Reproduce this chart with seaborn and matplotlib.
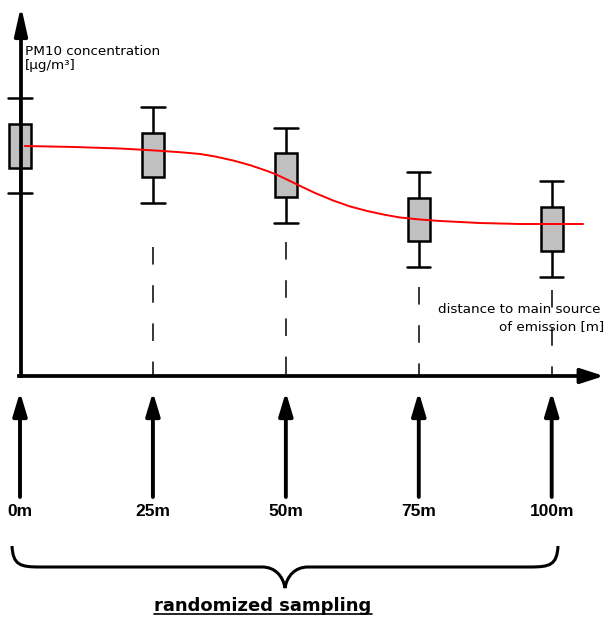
import numpy as np
import pandas as pd
import seaborn as sns
import matplotlib.pyplot as plt
from matplotlib.patches import FancyArrowPatch, PathPatch
from matplotlib.path import Path

# Sampling distances [m] and box statistics of PM10 (arbitrary units)
distance_m = [0, 25, 50, 75, 100]
whisker_low = [18.3, 17.3, 15.3, 10.9, 9.9]
quartile_1 = [20.8, 19.9, 17.9, 13.5, 12.5]
median = [23.0, 22.1, 20.1, 15.6, 14.7]
quartile_3 = [25.2, 24.3, 22.3, 17.8, 16.9]
whisker_high = [27.8, 26.9, 24.8, 20.4, 19.5]

# Red trend curve through the boxes
trend_x = [0.9, 10.3, 18.8, 25.4, 30.1, 33.9, 36.7, 40.1, 43.3, 46.5, 48.0, 50.2, 52.7,
           55.5, 58.9, 62.1, 65.3, 68.6, 71.5, 75.2, 79.0, 82.8, 86.5, 94.0, 105.9]
trend_y = [23.0, 22.9, 22.75, 22.55, 22.38, 22.2, 21.95, 21.55, 21.08, 20.5, 20.2, 19.65, 19.0,
           18.3, 17.55, 16.95, 16.5, 16.12, 15.85, 15.65, 15.5, 15.4, 15.3, 15.2, 15.2]

# Dashed guide lines (25..100 m) start here and run down to the distance axis
guide_x = [25, 50, 75, 100]
guide_top = [12.9, 13.4, 8.9, 8.6]

point_labels = ["0m", "25m", "50m", "75m", "100m"]

# long form table: five values per box -> exact quartiles / whiskers
rows = []
for i, d in enumerate(distance_m):
    for v in (whisker_low[i], quartile_1[i], median[i], quartile_3[i], whisker_high[i]):
        rows.append({"distance": d, "pm10": v})
df = pd.DataFrame(rows)

# sketch geometry (pixels of the 606x617 image)
W, H = 606, 617
X0, Y0 = 20, 376          # origin of the concentration/distance axes
PX_M, PX_U = 5.317, 10.0  # pixels per metre, pixels per unit


def px(x, y):
    return ((x - X0) / PX_M, (Y0 - y) / PX_U)


sns.set_style("white")
plt.rcParams['font.family'] = ['DejaVu Sans']
plt.rcParams['text.color'] = 'black'

fig = plt.figure(figsize=(W / 100, H / 100), dpi=100)
ax = fig.add_axes([0, 0, 1, 1])

sns.boxplot(
    data=df, x="distance", y="pm10", native_scale=True,
    whis=(0, 100), width=0.168, color="#c0c0c0", saturation=1,
    linecolor="black", linewidth=1.8, capwidths=4.4,
    medianprops=dict(linewidth=0), ax=ax, zorder=2,
)

sns.lineplot(x=trend_x, y=trend_y, color="red", lw=1.4, ax=ax, zorder=5)

for gx, gt in zip(guide_x, guide_top):
    ax.plot([gx, gx], [gt, 0], color="black", lw=1.1, dashes=(11.5, 13.5), zorder=1)


def arrow(p0, p1, lw, hl, hw):
    ax.add_patch(FancyArrowPatch(
        p0, p1, arrowstyle=f"-|>,head_length={hl},head_width={hw}",
        mutation_scale=1, lw=lw, color="black", shrinkA=0, shrinkB=0, zorder=6))


# axes with arrow heads
ax.plot([px(19, 0)[0], px(21, 0)[0]], [0, 0], color="black", lw=2.7, solid_capstyle="projecting", zorder=6)
arrow(px(21, Y0), px(21, 6), 2.7, 17, 3.8)
arrow(px(21, Y0), px(604, Y0), 2.7, 14, 4.5)

# sampling arrows below the axis
for d in distance_m:
    arrow((d, px(0, 497)[1]), (d, px(0, 392)[1]), 2.8, 14, 4.2)

for d, lab in zip(distance_m, point_labels):
    ax.text(d, px(0, 516)[1], lab, ha="center", va="baseline",
            family="Liberation Sans", weight="bold", fontsize=12.5)

ax.text(*px(25, 55), "PM10 concentration", fontsize=9.7, va="baseline")
ax.text(*px(25, 69), "[µg/m³]", fontsize=9.7, va="baseline")
ax.text(*px(438, 313), "distance to main source", fontsize=9.7, va="baseline")
ax.text(*px(499, 330), "of emission [m]", fontsize=9.7, va="baseline")

# curly brace under the sampling points
brace_px = [
    (12, 546), (13, 565), (20, 567), (40, 567),
    (262, 567),
    (275, 567), (283, 576), (285, 588),
    (287, 576), (295, 567), (308, 567),
    (530, 567),
    (550, 567), (557, 565), (558, 546),
]
codes = [Path.MOVETO, Path.CURVE4, Path.CURVE4, Path.CURVE4,
         Path.LINETO,
         Path.CURVE4, Path.CURVE4, Path.CURVE4,
         Path.CURVE4, Path.CURVE4, Path.CURVE4,
         Path.LINETO,
         Path.CURVE4, Path.CURVE4, Path.CURVE4]
ax.add_patch(PathPatch(Path([px(*p) for p in brace_px], codes),
                       fill=False, lw=2.2, color="black", zorder=6))

txt = ax.text(*px(263, 611), "randomized sampling", ha="center", va="baseline",
              weight="bold", fontsize=13)

ax.set_xlim(px(0, 0)[0], px(W, 0)[0])
ax.set_ylim(px(0, H)[1], px(0, 0)[1])
ax.set_axis_off()

# underline the caption
fig.canvas.draw()
bb = txt.get_window_extent().transformed(ax.transData.inverted())
uy = px(0, 614)[1]
ax.plot([bb.x0, bb.x1], [uy, uy], color="black", lw=1.2)

fig.savefig("out.png", dpi=100)
